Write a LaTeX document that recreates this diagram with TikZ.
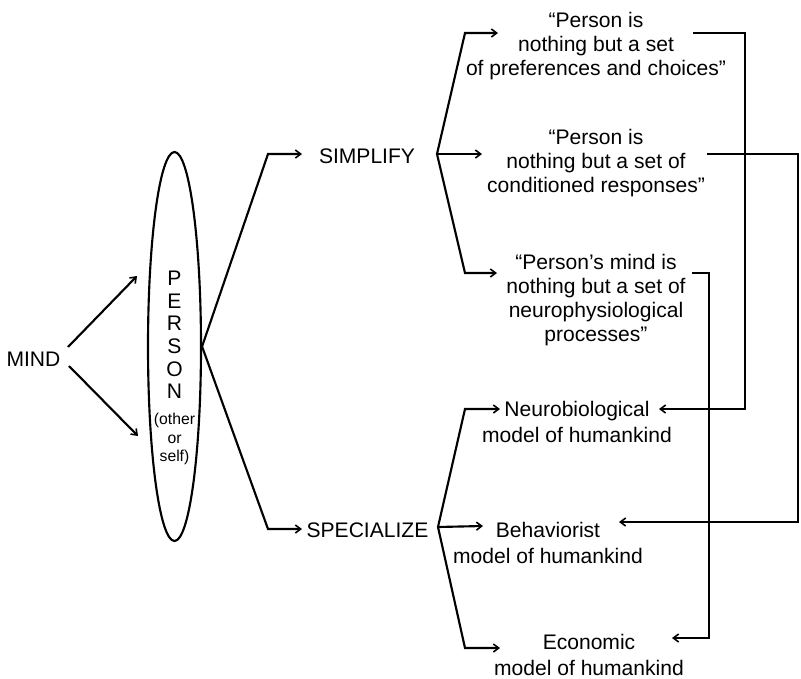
\documentclass[tikz,border=0pt]{standalone}
\usepackage{fontspec}
\setmainfont{Liberation Sans}
\usetikzlibrary{arrows.meta,shapes.geometric}
\begin{document}
\begin{tikzpicture}[x=0.75pt,y=-0.75pt,
  line width=1.6pt,
  lbl/.style={inner sep=0pt,align=center,font=\fontsize{15.8}{18}\selectfont},
  model/.style={lbl,font=\fontsize{15.8}{19.5}\selectfont},
  small/.style={lbl,font=\fontsize{11.8}{13.9}\selectfont},
  letters/.style={lbl,font=\fontsize{15.8}{17}\selectfont},
  arr/.style={-{Straight Barb[length=4pt,width=6pt,line width=1.2pt]}},
  link/.style={line join=miter}]
\useasboundingbox (0,0) rectangle (801,679);

% left part: MIND and the PERSON ellipse
\node[lbl] (mind) at (33.5,359) {MIND};
\node[draw,ellipse,inner sep=0pt,minimum width=39.75pt,minimum height=291.75pt] (person) at (174.5,346.5) {};
\node[letters] (personlbl) at (174.5,335) {P\\E\\R\\S\\O\\N};
\node[small] (who) at (174.5,439) {(other\\or\\self)};

% two routes
\node[lbl] (simplify) at (367,156) {SIMPLIFY};
\node[lbl] (specialize) at (367.5,530.5) {SPECIALIZE};

% statements
\node[lbl] (q1) at (596,46) {“Person is\\nothing but a set\\of preferences and choices”};
\node[lbl] (q2) at (596,163) {“Person is\\nothing but a set of\\conditioned responses”};
\node[lbl] (q3) at (596,300.5) {“Person’s mind is\\nothing but a set of\\neurophysiological\\processes”};

% models
\node[model] (neuro) at (577,422) {Neurobiological\\model of humankind};
\node[model] (behav) at (548,542.5) {Behaviorist\\model of humankind};
\node[model] (econ) at (589,655) {Economic\\model of humankind};

% bend and end points of the connectors
\coordinate (m1s) at (68,347);  \coordinate (m1e) at (137,276);
\coordinate (m2s) at (69,366);  \coordinate (m2e) at (138,436);
\coordinate (pb1) at (268,154); \coordinate (sin) at (302,154);
\coordinate (pb2) at (268,529); \coordinate (pin) at (302,529);

\coordinate (sv) at (437,154);
\coordinate (t1) at (465,33);  \coordinate (t1e) at (498,33);
\coordinate (t2e) at (482,154);
\coordinate (t3) at (465,273); \coordinate (t3e) at (497,273);

\coordinate (bv) at (438,527);
\coordinate (b1) at (465,409); \coordinate (b1e) at (500,409);
\coordinate (b2e) at (483,526);
\coordinate (b3) at (465,648); \coordinate (b3e) at (500,648);

\coordinate (r1s) at (693,33);  \coordinate (r1a) at (745,33);
\coordinate (r1b) at (745,409); \coordinate (r1e) at (659,409);
\coordinate (r2s) at (707,154); \coordinate (r2a) at (798,154);
\coordinate (r2b) at (798,522); \coordinate (r2e) at (619,522);
\coordinate (r3s) at (692,273); \coordinate (r3a) at (709,273);
\coordinate (r3b) at (709,638); \coordinate (r3e) at (672,638);

% MIND points at the person
\draw[arr] (m1s) -- (m1e);
\draw[arr] (m2s) -- (m2e);

% person splits into the two routes
\draw[arr,link] (person.east) -- (pb1) -- (sin);
\draw[arr,link] (person.east) -- (pb2) -- (pin);

% SIMPLIFY fans out to the statements
\draw[arr,link] (sv) -- (t1) -- (t1e);
\draw[arr] (sv) -- (t2e);
\draw[arr,link] (sv) -- (t3) -- (t3e);

% SPECIALIZE fans out to the models
\draw[arr,link] (bv) -- (b1) -- (b1e);
\draw[arr] (bv) -- (b2e);
\draw[arr,link] (bv) -- (b3) -- (b3e);

% each statement feeds its model
\draw[arr,link] (r1s) -- (r1a) -- (r1b) -- (r1e);
\draw[arr,link] (r2s) -- (r2a) -- (r2b) -- (r2e);
\draw[arr,link] (r3s) -- (r3a) -- (r3b) -- (r3e);
\end{tikzpicture}
\end{document}
